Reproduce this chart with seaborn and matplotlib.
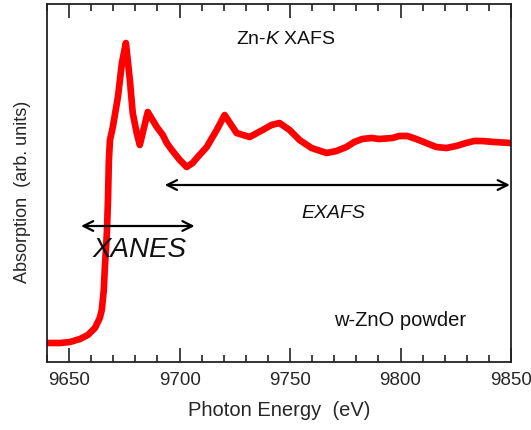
import matplotlib
matplotlib.use("Agg")
import matplotlib.pyplot as plt
import seaborn as sns
import pandas as pd
from matplotlib.ticker import MultipleLocator

# Photon energy (eV) and normalized absorption (arb. units)
energy = [9640.0, 9645.9, 9650.4, 9654.9, 9658.5, 9661.7, 9663.9, 9664.8, 9665.7,
          9666.2, 9667.1, 9667.6, 9668.0, 9668.5, 9669.8, 9672.1, 9673.9, 9675.7,
          9677.5, 9678.8, 9680.6, 9682.0, 9685.6, 9689.7, 9692.4, 9694.2, 9696.5,
          9700.1, 9703.2, 9705.9, 9707.8, 9712.3, 9716.8, 9720.4, 9725.8, 9731.7,
          9737.6, 9741.6, 9745.2, 9749.8, 9754.3, 9759.7, 9766.5, 9771.0, 9775.5,
          9779.1, 9782.7, 9786.8, 9790.4, 9796.3, 9799.4, 9803.1, 9807.1, 9811.6,
          9816.2, 9820.7, 9825.2, 9829.7, 9833.3, 9836.9, 9842.3, 9850.0]
absorption = [0.095, 0.095, 0.10, 0.115, 0.135, 0.17, 0.22, 0.26, 0.36,
              0.475, 0.645, 0.81, 1.01, 1.11, 1.175, 1.325, 1.495, 1.595,
              1.41, 1.245, 1.145, 1.085, 1.25, 1.175, 1.135, 1.095, 1.06,
              1.01, 0.975, 0.995, 1.02, 1.075, 1.16, 1.235, 1.145, 1.125,
              1.16, 1.185, 1.195, 1.16, 1.11, 1.07, 1.045, 1.055, 1.075,
              1.10, 1.115, 1.12, 1.115, 1.12, 1.13, 1.13, 1.115, 1.095,
              1.075, 1.07, 1.08, 1.095, 1.105, 1.105, 1.10, 1.095]

x_ticks = [9650, 9700, 9750, 9800, 9850]

sns.set_style("ticks")
plt.rcParams['font.family'] = ['Liberation Sans', 'DejaVu Sans']
plt.rcParams['mathtext.fontset'] = 'custom'
plt.rcParams['mathtext.rm'] = 'Liberation Sans'
plt.rcParams['mathtext.it'] = 'Liberation Sans:italic'

df = pd.DataFrame({"energy": energy, "absorption": absorption})

fig = plt.figure(figsize=(5.31, 4.30), dpi=100)
ax = fig.add_axes([47/531, 68/430, 464/531, 358/430])

sns.lineplot(data=df, x="energy", y="absorption", ax=ax, color="#ff0000",
             linewidth=4.8, solid_joinstyle="round", solid_capstyle="round")

ax.set_xlim(9640, 9850)
ax.set_ylim(0, 1.79)
ax.set_xticks(x_ticks)
ax.xaxis.set_minor_locator(MultipleLocator(10))
ax.set_yticks([])
ax.tick_params(axis="x", which="major", direction="in", length=10, width=1.2,
               top=True, labelsize=13.5, pad=7, color="#222222")
ax.tick_params(axis="x", which="minor", direction="in", length=5, width=1.2,
               top=True, color="#222222")
for s in ax.spines.values():
    s.set_visible(True)
    s.set_linewidth(1.3)
    s.set_color("#222222")

ax.set_xlabel("Photon Energy  (eV)", fontsize=14.5, labelpad=9)
ax.set_ylabel("Absorption  (arb. units)", fontsize=13)
ax.yaxis.set_label_coords(-0.034, 0.475)

ax.text(0.515, 0.902, "Zn-$K$ XAFS", transform=ax.transAxes, ha="center",
        va="center", fontsize=14, color="#111111")
ax.text(0.76, 0.115, "w-ZnO powder", transform=ax.transAxes, ha="center",
        va="center", fontsize=14.5, color="#111111")

arrow_kw = dict(arrowstyle="<->,head_length=0.7,head_width=0.35", color="black",
                lw=1.6, shrinkA=0, shrinkB=0)
ax.annotate("", xy=(9849.5, 0.885), xytext=(9693.3, 0.885), arrowprops=arrow_kw)
ax.annotate("", xy=(9706.8, 0.68), xytext=(9655.4, 0.68), arrowprops=arrow_kw)
ax.text(0.617, 0.416, "EXAFS", transform=ax.transAxes, ha="center",
        va="center", fontsize=14, style="italic", color="#111111")
ax.text(0.2, 0.313, "XANES", transform=ax.transAxes, ha="center",
        va="center", fontsize=20, style="italic", color="#111111")

fig.savefig("out.png", dpi=100)
